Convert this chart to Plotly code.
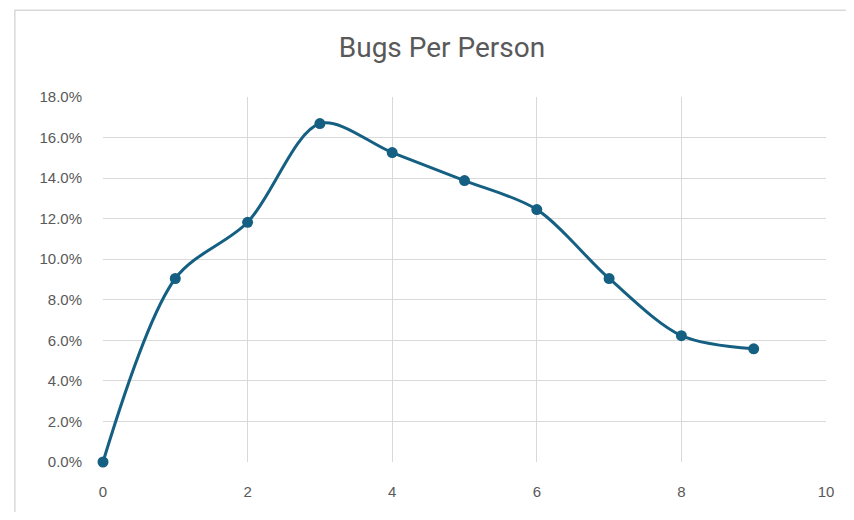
import plotly.graph_objects as go

x_values = [0, 1, 2, 3, 4, 5, 6, 7, 8, 9]
bug_share = [0.0, 0.0905, 0.1182, 0.1669, 0.1526, 0.1388, 0.1245, 0.0905, 0.0623, 0.0558]
y_tick_vals = [0.0, 0.02, 0.04, 0.06, 0.08, 0.10, 0.12, 0.14, 0.16, 0.18]
x_tick_vals = [0, 2, 4, 6, 8, 10]
title_text = "Bugs Per Person"

LINE = "#156082"
GRID = "#d9d9d9"
TXT = "#595959"

fig = go.Figure()
fig.add_trace(go.Scatter(
    x=x_values, y=bug_share, mode="lines+markers",
    line=dict(color=LINE, width=3, shape="spline", smoothing=0.9),
    marker=dict(color=LINE, size=11),
    showlegend=False, cliponaxis=False,
))

# page body has an 8px margin; figure sized to fit inside window
OFF = 8
W, H = 838, 504
L, T = 103 - OFF, 97 - OFF
R = W - (833 - OFF)
B = H - (467 - OFF)
pw, ph = W - L - R, H - T - B

def px_x(p):
    return (p - OFF - L) / pw

def px_y(p):
    return 1 - (p - OFF - T) / ph

fig.update_layout(
    width=W, height=H,
    margin=dict(l=L, r=R, t=T, b=B),
    paper_bgcolor="white", plot_bgcolor="white",
    title=dict(text=title_text, x=(442 - OFF) / W, xanchor="center", xref="container",
               y=1 - (47 - OFF) / H, yanchor="middle", yref="container",
               font=dict(family="Liberation Sans Narrow, Arial Narrow, Roboto, sans-serif", size=28, color=TXT)),
    xaxis=dict(range=[0, 10], tickvals=x_tick_vals, showgrid=True, gridcolor=GRID, gridwidth=1,
               zeroline=False, showline=False, ticks="outside", ticklen=16,
               tickcolor="rgba(0,0,0,0)",
               tickfont=dict(family="Liberation Sans, Arial, sans-serif", size=15, color=TXT)),
    yaxis=dict(range=[0, 0.18], tickvals=y_tick_vals, tickformat=".1%", showgrid=True,
               gridcolor=GRID, gridwidth=1, zeroline=False, showline=False,
               ticks="outside", ticklen=17, tickcolor="rgba(0,0,0,0)",
               tickfont=dict(family="Liberation Sans, Arial, sans-serif", size=15, color=TXT)),
    shapes=[dict(type="rect", xref="paper", yref="paper",
                 x0=px_x(14), x1=px_x(900), y0=px_y(560), y1=px_y(9),
                 line=dict(color=GRID, width=1.5), fillcolor="rgba(0,0,0,0)", layer="below")],
)

fig.write_html("out.html")
